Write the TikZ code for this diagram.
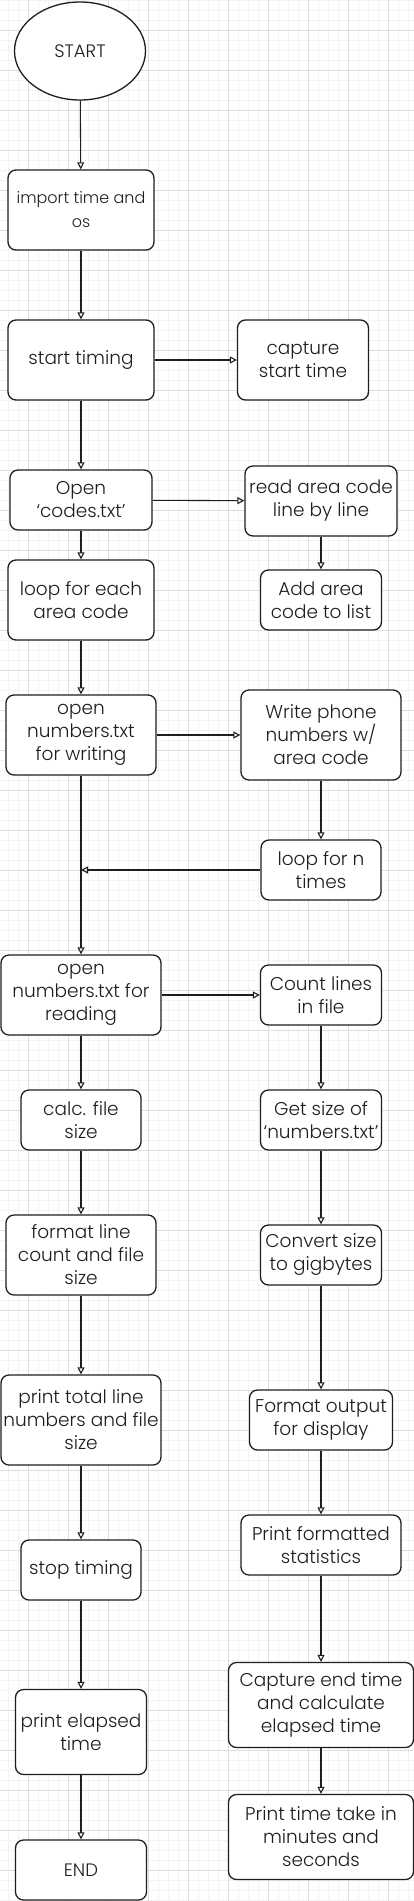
\documentclass[tikz,border=0pt]{standalone}
\usepackage{fontspec}
\setmainfont{Poppins}[UprightFont=* Light]
\usetikzlibrary{shapes.geometric,arrows.meta}
\definecolor{ink}{HTML}{1E1E1E}
\definecolor{gridmajor}{HTML}{DDDDDD}
\definecolor{gridminor}{HTML}{F3F3F3}
\tikzset{
  stepbox/.style={draw=ink,line width=1.3pt,rounded corners=8pt,fill=white,
    align=center,inner sep=1pt,text=ink,font=\fontsize{18.5}{23}\selectfont},
  endbox/.style={stepbox,font=\fontsize{18}{20}\selectfont},
  flow/.style={draw=ink,line width=1.1pt,-{Triangle[open,length=7pt,width=7pt]}},
}
\begin{document}
\begin{tikzpicture}[x=1pt,y=-1pt]
  \useasboundingbox (0,0) rectangle (414,1901);
  \fill[white] (0,0) rectangle (414,1901);
  % grid
  \foreach \gx in {8,18,...,408} \draw[gridminor,line width=0.6pt] (\gx,0) -- (\gx,1901);
  \foreach \gy in {0,10,...,1900} \draw[gridminor,line width=0.6pt] (0,\gy) -- (414,\gy);
  \foreach \gx in {28,68,...,388} \draw[gridmajor,line width=0.7pt] (\gx,0) -- (\gx,1901);
  \foreach \gy in {30,70,...,1870} \draw[gridmajor,line width=0.7pt] (0,\gy) -- (414,\gy);
  % left column
  \node[ellipse,draw=ink,line width=1.3pt,fill=white,text=ink,font=\fontsize{18}{20}\selectfont,
    minimum width=131pt,minimum height=98pt] (start) at (80,51) {START};
  \node[stepbox,font=\fontsize{16}{24}\selectfont,minimum width=146pt,minimum height=80pt] (imp) at (81,210) {import time and\\os};
  \node[stepbox,minimum width=146pt,minimum height=80pt] (timing) at (81,360) {start timing};
  \node[stepbox,minimum width=142pt,minimum height=60pt] (opencodes) at (81,500) {Open\\‘codes.txt’};
  \node[stepbox,minimum width=146pt,minimum height=80pt] (loopcode) at (81,600) {loop for each\\area code};
  \node[stepbox,minimum width=150pt,minimum height=80pt] (openwrite) at (81,735) {open\\numbers.txt\\for writing};
  \node[stepbox,minimum width=160pt,minimum height=80pt] (openread) at (81,995) {open\\numbers.txt for\\reading};
  \node[stepbox,minimum width=120pt,minimum height=60pt] (calcsize) at (81,1120) {calc. file\\size};
  \node[stepbox,minimum width=150pt,minimum height=80pt] (formatline) at (81,1255) {format line\\count and file\\size};
  \node[stepbox,minimum width=160pt,minimum height=90pt] (printtotal) at (81,1420) {print total line\\numbers and file\\size};
  \node[stepbox,minimum width=120pt,minimum height=60pt] (stoptiming) at (81,1570) {stop timing};
  \node[stepbox,minimum width=131pt,minimum height=85pt] (printelapsed) at (81,1732) {print elapsed\\time};
  \node[endbox,minimum width=131pt,minimum height=60pt] (endnode) at (81,1870) {END};
  % right column
  \node[stepbox,minimum width=131pt,minimum height=80pt] (capture) at (303,360) {capture\\start time};
  \node[stepbox,minimum width=152pt,minimum height=70pt] (readcode) at (321,501) {read area code\\line by line};
  \node[stepbox,minimum width=121pt,minimum height=60pt] (addcode) at (321,600) {Add area\\code to list};
  \node[stepbox,minimum width=160pt,minimum height=90pt] (writephone) at (321,735) {Write phone\\numbers w/\\area code};
  \node[stepbox,minimum width=120pt,minimum height=60pt] (loopn) at (321,870) {loop for n\\times};
  \node[stepbox,minimum width=121pt,minimum height=60pt] (countlines) at (321,995) {Count lines\\in file};
  \node[stepbox,minimum width=121pt,minimum height=60pt] (getsize) at (321,1120) {Get size of\\‘numbers.txt’};
  \node[stepbox,minimum width=121pt,minimum height=60pt] (convert) at (321,1255) {Convert size\\to gigbytes};
  \node[stepbox,minimum width=143pt,minimum height=60pt] (formatout) at (321,1420) {Format output\\for display};
  \node[stepbox,minimum width=160pt,minimum height=60pt] (printstats) at (321,1545) {Print formatted\\statistics};
  \node[stepbox,minimum width=185pt,minimum height=85pt] (capend) at (321,1705) {Capture end time\\and calculate\\elapsed time};
  \node[stepbox,minimum width=185pt,minimum height=85pt] (printtime) at (321,1837) {Print time take in\\minutes and\\seconds};
  \coordinate (merge) at (openwrite |- loopn);
  % connectors
  \draw[flow] (start) -- (imp);
  \draw[flow] (imp) -- (timing);
  \draw[flow] (timing) -- (capture);
  \draw[flow] (timing) -- (opencodes);
  \draw[flow] (opencodes) -- (readcode);
  \draw[flow] (readcode) -- (addcode);
  \draw[flow] (opencodes) -- (loopcode);
  \draw[flow] (loopcode) -- (openwrite);
  \draw[flow] (openwrite) -- (writephone);
  \draw[flow] (writephone) -- (loopn);
  \draw[flow] (loopn) -- (merge);
  \draw[flow] (openwrite) -- (openread);
  \draw[flow] (openread) -- (countlines);
  \draw[flow] (openread) -- (calcsize);
  \draw[flow] (countlines) -- (getsize);
  \draw[flow] (calcsize) -- (formatline);
  \draw[flow] (getsize) -- (convert);
  \draw[flow] (formatline) -- (printtotal);
  \draw[flow] (convert) -- (formatout);
  \draw[flow] (printtotal) -- (stoptiming);
  \draw[flow] (formatout) -- (printstats);
  \draw[flow] (stoptiming) -- (printelapsed);
  \draw[flow] (printstats) -- (capend);
  \draw[flow] (printelapsed) -- (endnode);
  \draw[flow] (capend) -- (printtime);
\end{tikzpicture}
\end{document}
